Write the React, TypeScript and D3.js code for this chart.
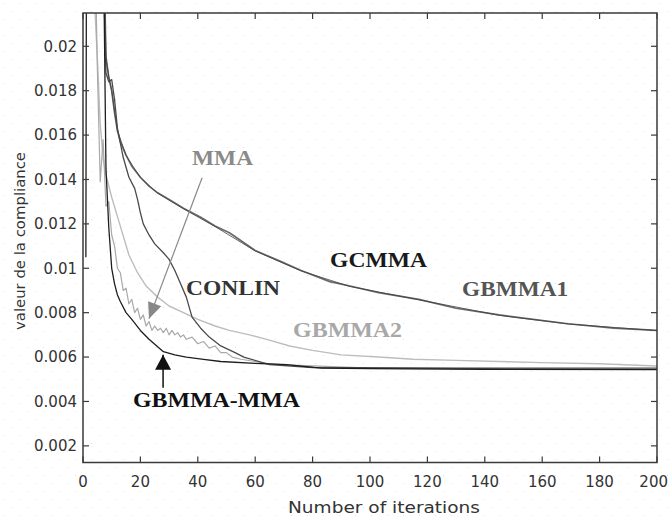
import React from "react";
import * as d3 from "d3";

// iterations / compliance values
const mixX = [1, 2, 7, 8, 9, 10, 11, 12, 13, 15, 17, 20, 23, 28, 32, 36, 42, 48, 60, 71, 83, 100, 140, 200];
const mixY = [0.0105, 0.08, 0.026, 0.0145, 0.0118, 0.01, 0.0093, 0.0088, 0.0085, 0.008, 0.0077, 0.0072, 0.0068, 0.00624, 0.0061, 0.006, 0.0059, 0.0058, 0.00572, 0.00566, 0.0055, 0.00548, 0.00545, 0.00543];

const mmaX = [3, 4, 5, 6, 7, 8, 9, 10, 11, 12, 13, 14, 15, 16, 17, 18, 19, 20, 21, 22, 23, 24, 25, 26, 27, 28, 29, 30, 31, 32, 33, 34, 35, 36, 38, 40, 42, 44, 46, 48, 50, 52, 55, 60, 65, 70, 80, 100, 150, 200];
const mmaY = [0.03, 0.026, 0.019, 0.0139, 0.0158, 0.0128, 0.013, 0.0115, 0.011, 0.01, 0.0098, 0.009, 0.0091, 0.0084, 0.0086, 0.008, 0.0082, 0.0077, 0.0079, 0.0074, 0.0076, 0.0072, 0.0074, 0.0072, 0.0073, 0.0071, 0.0073, 0.007, 0.0072, 0.007, 0.0071, 0.0069, 0.007, 0.0068, 0.0069, 0.0066, 0.0067, 0.0064, 0.0065, 0.0062, 0.0062, 0.006, 0.0059, 0.0058, 0.0057, 0.00565, 0.0056, 0.0055, 0.00548, 0.00545];

const conlinX = [6, 7, 8, 9, 10, 11, 12, 14, 16, 18, 19, 20, 21, 23, 25, 28, 30, 32, 34, 36, 38, 41, 44, 48, 53, 56, 65, 80, 130, 200];
const conlinY = [0.06, 0.024, 0.0188, 0.0184, 0.0185, 0.0176, 0.0163, 0.015, 0.0141, 0.0136, 0.0131, 0.0125, 0.012, 0.0115, 0.0111, 0.0107, 0.0104, 0.0099, 0.0093, 0.0087, 0.0078, 0.0073, 0.0069, 0.0065, 0.0062, 0.006, 0.00566, 0.00553, 0.0055, 0.0055];

const gb2X = [3, 4, 5, 6, 7, 8, 10, 13, 16, 19, 22, 26, 30, 35, 40, 46, 51, 58, 64, 72, 80, 90, 103, 115, 130, 145, 160, 180, 200];
const gb2Y = [0.04, 0.022, 0.0195, 0.0165, 0.015, 0.0142, 0.0132, 0.0119, 0.0106, 0.0098, 0.0092, 0.0087, 0.0083, 0.008, 0.0077, 0.0074, 0.0072, 0.007, 0.0068, 0.0065, 0.0063, 0.0061, 0.006, 0.0059, 0.00585, 0.0058, 0.00575, 0.0057, 0.0056];

const gb1X = [6, 7, 8, 9, 10, 11, 12, 13, 15, 17, 20, 23, 26, 30, 35, 41, 46, 51, 60, 69, 76, 86, 93, 103, 117, 130, 145, 169, 185, 200];
const gb1Y = [0.06, 0.026, 0.0195, 0.0186, 0.018, 0.017, 0.0162, 0.0157, 0.0151, 0.0146, 0.0141, 0.0137, 0.0134, 0.0131, 0.0127, 0.0123, 0.0119, 0.0116, 0.0108, 0.0103, 0.0099, 0.0094, 0.0092, 0.0089, 0.0086, 0.0082, 0.0079, 0.0075, 0.0073, 0.0072];

const gcX = [6, 7, 8, 9, 10, 12, 15, 20, 26, 35, 46, 60, 76, 93, 117, 145, 169, 200];
const gcY = [0.06, 0.0259, 0.0195, 0.0186, 0.018, 0.0162, 0.01508, 0.01408, 0.01338, 0.01268, 0.01188, 0.01078, 0.00988, 0.00918, 0.00858, 0.00788, 0.00749, 0.00719];

const xTicks = [0, 20, 40, 60, 80, 100, 120, 140, 160, 180, 200];
const yTicks = [0.002, 0.004, 0.006, 0.008, 0.01, 0.012, 0.014, 0.016, 0.018, 0.02];
const yTickLabels = ["0.002", "0.004", "0.006", "0.008", "0.01", "0.012", "0.014", "0.016", "0.018", "0.02"];

const labelNames = ["MMA", "CONLIN", "GCMMA", "GBMMA1", "GBMMA2", "GBMMA-MMA"];
const labelX = [38.0, 35.9, 86.1, 132.1, 73.2, 17.4];
const labelY = [0.01467, 0.00881, 0.01007, 0.00876, 0.00691, 0.00376];
const labelW = [61, 94, 97, 106, 109, 167];
const labelFill = ["#8a8a8a", "#333", "#1a1a1a", "#555", "#a8a8a8", "#111"];

export default function App() {
  const W = 669, H = 522;
  const left = 83, right = 657, top = 13, bottom = 462.5;

  const x = d3.scaleLinear().domain([0, 200]).range([left, right]);
  const y = d3.scaleLinear().domain([0.00125, 0.0215]).range([bottom, top]);

  const line = d3.line<[number, number]>().x(d => x(d[0])).y(d => y(d[1]));
  const mk = (xs: number[], ys: number[]) => line(xs.map((v, i) => [v, ys[i]] as [number, number])) || "";

  const series = [
    { d: mk(gb2X, gb2Y), c: "#bdbdbd", w: 1.4 },
    { d: mk(mmaX, mmaY), c: "#a9a9a9", w: 1.2 },
    { d: mk(gb1X, gb1Y), c: "#6a6a6a", w: 1.7 },
    { d: mk(gcX, gcY), c: "#404040", w: 0.8 },
    { d: mk(conlinX, conlinY), c: "#4a4a4a", w: 1.3 },
    { d: mk(mixX, mixY), c: "#1e1e1e", w: 1.3 },
  ];

  const arrowHead = (x0: number, y0: number, x1: number, y1: number, len: number, hw: number) => {
    const dx = x1 - x0, dy = y1 - y0;
    const n = Math.sqrt(dx * dx + dy * dy);
    const ux = dx / n, uy = dy / n;
    const bx = x1 - ux * len, by = y1 - uy * len;
    return `${x1},${y1} ${bx - uy * hw},${by + ux * hw} ${bx + uy * hw},${by - ux * hw}`;
  };

  // arrows in data units
  const mA = [x(41.5), y(0.01408), x(23.0), y(0.00773)];
  const gA = [x(27.9), y(0.00462), x(27.9), y(0.0061)];

  return (
    <svg width={W} height={H} style={{ position: "absolute", left: 0, top: 0, background: "#fff" }}>
      <defs>
        <pattern id="dots" width="16" height="16" patternUnits="userSpaceOnUse">
          <rect x="3" y="3" width="1" height="1" fill="#e2e2e2" />
          <rect x="11" y="11" width="1" height="1" fill="#e2e2e2" />
        </pattern>
        <clipPath id="plot">
          <rect x={left} y={top} width={right - left} height={bottom - top} />
        </clipPath>
      </defs>
      <rect width={W} height={H} fill="url(#dots)" />

      <g clipPath="url(#plot)" fill="none" strokeLinejoin="round">
        {series.map((s, i) => (
          <path key={i} d={s.d} stroke={s.c} strokeWidth={s.w} />
        ))}
      </g>

      {/* frame + ticks */}
      <rect x={left} y={top} width={right - left} height={bottom - top} fill="none" stroke="#3a3a3a" strokeWidth={1.5} />
      {xTicks.map(t => (
        <g key={"x" + t} stroke="#3a3a3a" strokeWidth={1.2}>
          <line x1={x(t)} x2={x(t)} y1={bottom} y2={bottom - 6} />
          <line x1={x(t)} x2={x(t)} y1={top} y2={top + 6} />
        </g>
      ))}
      {yTicks.map(t => (
        <g key={"y" + t} stroke="#3a3a3a" strokeWidth={1.2}>
          <line x1={left} x2={left + 6} y1={y(t)} y2={y(t)} />
          <line x1={right} x2={right - 6} y1={y(t)} y2={y(t)} />
        </g>
      ))}

      <g fontFamily="DejaVu Sans" fontSize={15} fill="#333">
        {xTicks.map((t, i) => (
          i === xTicks.length - 1
            ? <text key={"xl" + t} x={W - 1} y={487} textAnchor="end">{t}</text>
            : <text key={"xl" + t} x={x(t)} y={487} textAnchor="middle">{t}</text>
        ))}
        {yTicks.map((t, i) => (
          <text key={"yl" + t} x={77} y={y(t)} dy="0.36em" textAnchor="end">{yTickLabels[i]}</text>
        ))}
        <text x={384} y={513} textAnchor="middle" textLength={192} lengthAdjust="spacingAndGlyphs">Number of iterations</text>
        <text transform="translate(25,241) rotate(-90)" textAnchor="middle" fontSize={14} textLength={178} lengthAdjust="spacingAndGlyphs">valeur de la compliance</text>
      </g>

      {/* annotations */}
      <line x1={mA[0]} y1={mA[1]} x2={mA[2]} y2={mA[3]} stroke="#888" strokeWidth={1.2} />
      <polygon points={arrowHead(mA[0], mA[1], mA[2], mA[3], 16, 7)} fill="#888" />
      <line x1={gA[0]} y1={gA[1]} x2={gA[2]} y2={gA[3]} stroke="#111" strokeWidth={1.5} />
      <polygon points={arrowHead(gA[0], gA[1], gA[2], gA[3], 15, 8)} fill="#111" />

      <g fontFamily="Liberation Serif" fontWeight="bold" fontSize={21}>
        {labelNames.map((n, i) => (
          <text key={n} x={x(labelX[i])} y={y(labelY[i])} fill={labelFill[i]} textLength={labelW[i]} lengthAdjust="spacingAndGlyphs">{n}</text>
        ))}
      </g>
    </svg>
  );
}
